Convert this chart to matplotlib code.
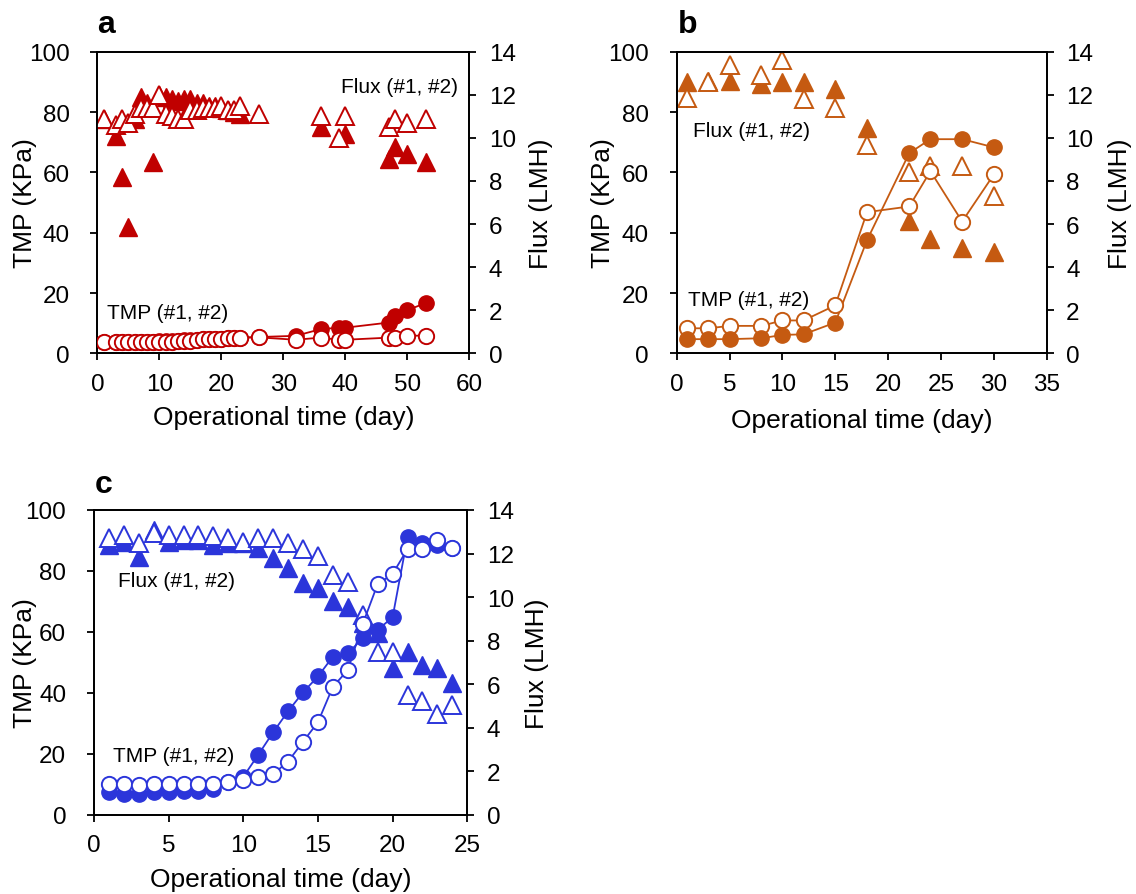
import numpy as np
import matplotlib
matplotlib.use('Agg')
import matplotlib.pyplot as plt

plt.rcParams['font.family'] = ['Liberation Sans', 'DejaVu Sans']

nan = np.nan

# ---- panel a ----
days_a = [1, 3, 4, 5, 6, 7, 8, 9, 10, 11, 12, 13, 14, 15, 16, 17, 18, 19, 20, 21, 22, 23,
          26, 32, 36, 39, 40, 47, 48, 50, 53]
tmp1_a = [3.6, 3.6, 3.7, 3.7, 3.8, 3.8, 3.9, 3.9, 4.0, 4.0, 4.1, 4.2, 4.3, 4.4, 4.5, 4.6,
          4.7, 4.8, 4.9, 5.0, 5.1, 5.2, 5.4, 5.8, 8.0, 8.5, 8.5, 10.2, 12.3, 14.3, 16.7]
tmp2_a = [3.6, 3.6, 3.6, 3.6, 3.6, 3.7, 3.7, 3.7, 3.8, 3.8, 3.9, 4.0, 4.0, 4.2, 4.4, 4.6,
          4.6, 4.8, 4.9, 5.0, 5.0, 5.2, 5.3, 4.5, 5.2, 4.5, 4.5, 5.2, 5.2, 5.8, 5.9]
flux1_a = [10.9, 10.1, 8.2, 5.85, 10.9, 11.9, 11.6, 8.9, 12.0, 11.9, 11.8, 11.7, 11.8, 11.8,
           11.6, 11.6, 11.5, 11.5, 11.4, 11.3, 11.2, 11.1, nan, nan, 10.5, nan, 10.2,
           9.0, 9.6, 9.25, 8.9]
flux2_a = [10.9, 10.6, 10.9, 10.7, 11.1, 11.4, 11.4, 11.4, 12.0, 11.1, 11.0, 10.9, 10.9, 11.3,
           11.3, 11.4, 11.4, 11.4, 11.5, 11.3, 11.3, 11.5, 11.1, nan, 11.0, 10.0, 11.0,
           10.5, 10.9, 10.7, 10.9]

# ---- panel b ----
days_b = [1, 3, 5, 8, 10, 12, 15, 18, 22, 24, 27, 30]
tmp1_b = [4.7, 4.7, 4.7, 5.0, 6.1, 6.3, 10.2, 37.5, 66.4, 71.0, 71.0, 68.3]
tmp2_b = [8.3, 8.3, 9.1, 9.1, 10.9, 10.9, 15.9, 46.8, 48.7, 60.4, 43.7, 59.3]
flux1_b = [12.6, 12.65, 12.65, 12.5, 12.6, 12.6, 12.25, 10.45, 6.15, 5.3, 4.9, 4.7]
flux2_b = [11.85, 12.6, 13.4, 12.9, 13.6, 11.8, 11.4, 9.65, 8.4, 8.7, 8.7, 7.3]

# ---- panel c ----
days_c = list(range(1, 25))
tmp1_c = [7.4, 6.9, 6.9, 7.4, 7.4, 7.7, 7.9, 8.4, 10.7, 12.5, 19.7, 27.1, 34.0, 40.2,
          45.4, 51.9, 53.0, 57.9, 60.7, 64.8, 91.0, 89.2, 88.5, 87.4]
tmp2_c = [10.2, 10.2, 9.9, 10.2, 10.2, 10.2, 10.2, 10.2, 10.9, 11.6, 12.4, 13.4, 17.5, 24.0,
          30.4, 42.0, 47.5, 62.6, 75.7, 79.0, 87.2, 87.2, 90.2, 87.4]
flux1_c = [12.4, 12.55, 11.85, 13.1, 12.55, 12.6, 12.6, 12.4, 12.5, 12.5, 12.25, 11.8, 11.35,
           10.65, 10.4, 9.8, 9.55, 8.8, 8.35, 6.75, 7.5, 6.9, 6.75, 6.05]
flux2_c = [12.7, 12.85, 12.5, 12.95, 12.85, 12.85, 12.85, 12.8, 12.7, 12.55, 12.7, 12.7, 12.5,
           12.2, 11.9, 11.0, 10.7, 9.2, 7.5, 7.5, 5.5, 5.25, 4.65, 5.05]

TICK_FS = 17.5
LABEL_FS = 19
NOTE_FS = 15


def style(ax, left=False):
    for s in ax.spines.values():
        s.set_linewidth(1.3)
    ax.tick_params(direction='out', length=5, width=1.3, labelsize=TICK_FS, pad=9)
    if left:
        # 左轴刻度标签离轴更远一些
        ax.tick_params(axis='y', pad=15)


def draw_panel(fig, rect, color, days, tmp1, tmp2, flux1, flux2, xmax, xstep,
               open_on_top, label_x, flux_note, tmp_note, ylab_x, y2lab_x, xlab_y):
    ax = fig.add_axes(rect)
    ax2 = ax.twinx()
    ax.set_zorder(ax2.get_zorder() + 1)
    ax.patch.set_visible(False)

    ms_c = 11
    ms_t = 12.5
    z_fill, z_open = (3, 4) if open_on_top else (4, 3)

    # TMP (circles with lines) on left axis
    ax.plot(days, tmp1, '-', color=color, lw=1.3, zorder=2)
    ax.plot(days, tmp2, '-', color=color, lw=1.3, zorder=2)
    ax.plot(days, tmp1, 'o', color=color, ms=ms_c, mec=color, zorder=z_fill)
    ax.plot(days, tmp2, 'o', color=color, ms=ms_c, mfc='white', mec=color, mew=1.4, zorder=z_open)

    # Flux (triangles) on right axis
    ax2.plot(days, flux1, '^', color=color, ms=ms_t, mec=color, zorder=3, ls='none')
    ax2.plot(days, flux2, '^', ms=ms_t, mfc='white', mec=color, mew=1.4, zorder=4, ls='none')

    ax.set_xlim(0, xmax)
    ax.set_xticks(np.arange(0, xmax + 1, xstep))
    ax.set_ylim(0, 100)
    ax.set_yticks(range(0, 101, 20))
    ax2.set_ylim(0, 14)
    ax2.set_yticks(range(0, 15, 2))
    style(ax, left=True)
    style(ax2)

    ax.set_xlabel('Operational time (day)', fontsize=LABEL_FS, va='center')
    ax.xaxis.set_label_coords(0.5, xlab_y)
    ax.set_ylabel('TMP (KPa)', fontsize=LABEL_FS, va='center')
    ax.yaxis.set_label_coords(ylab_x, 0.5)
    ax2.set_ylabel('Flux (LMH)', fontsize=LABEL_FS, va='center')
    ax2.yaxis.set_label_coords(y2lab_x, 0.5)

    # annotations
    ax.text(*flux_note[0], 'Flux (#1, #2)', fontsize=NOTE_FS, ha=flux_note[1], va='center', zorder=6)
    ax.text(*tmp_note, 'TMP (#1, #2)', fontsize=NOTE_FS, ha='left', va='center', zorder=6)

    fig.text(label_x[0], label_x[1], label_x[2], fontsize=23, fontweight='bold', va='baseline')
    return ax


fig = plt.figure(figsize=(11.36, 8.95), dpi=100)

draw_panel(fig, [0.0857, 0.6041, 0.3274, 0.3370], '#C00000',
           days_a, tmp1_a, tmp2_a, flux1_a, flux2_a, 60, 10, True,
           (0.0854, 0.963, 'a'), ((58.2, 88.6), 'right'), (1.5, 13.4),
           -0.194, 1.193, -0.211)

draw_panel(fig, [0.5957, 0.6041, 0.3257, 0.3370], '#C55A11',
           days_b, tmp1_b, tmp2_b, flux1_b, flux2_b, 35, 5, False,
           (0.597, 0.963, 'b'), ((1.57, 74.0), 'left'), (1.1, 17.8),
           -0.199, 1.198, -0.22)

draw_panel(fig, [0.0827, 0.0883, 0.3286, 0.3408], '#2B35DA',
           days_c, tmp1_c, tmp2_c, flux1_c, flux2_c, 25, 5, True,
           (0.0836, 0.449, 'c'), ((1.63, 76.8), 'left'), (1.3, 19.4),
           -0.185, 1.187, -0.21)

fig.savefig('out.png', dpi=100)
